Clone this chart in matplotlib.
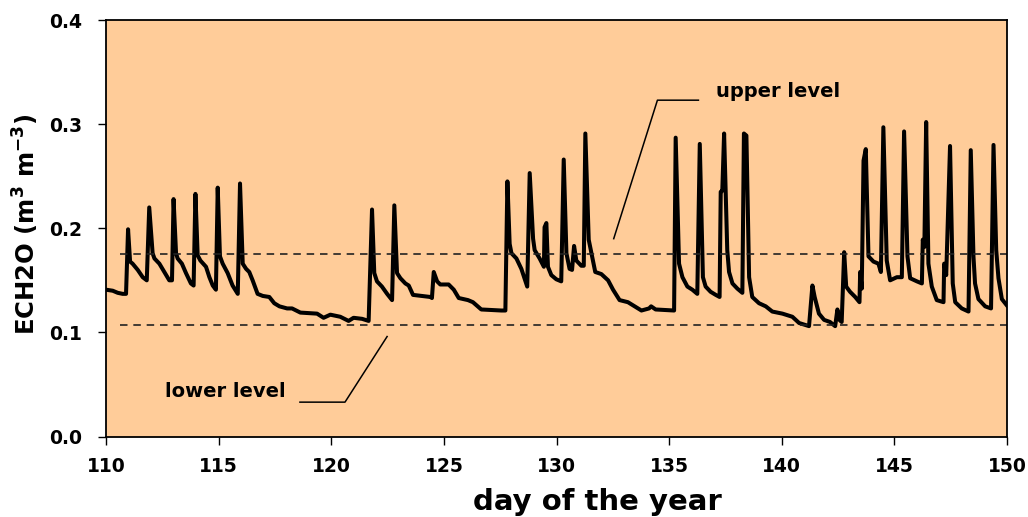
import matplotlib
matplotlib.use('Agg')
from matplotlib import pyplot as plt

# ECH2O probe readings, day of year vs volumetric water content
day = [110.00, 110.30, 110.52, 110.74, 110.89, 110.98, 111.07, 111.18, 111.41, 111.63,
       111.81, 111.92, 112.07, 112.15, 112.37, 112.59, 112.81, 112.93, 113.00, 113.11,
       113.18, 113.37, 113.55, 113.77, 113.89, 113.97, 114.07, 114.19, 114.44, 114.59,
       114.74, 114.88, 114.96, 115.06, 115.18, 115.40, 115.62, 115.85, 115.95, 116.07,
       116.22, 116.36, 116.51, 116.73, 116.96, 117.25, 117.47, 117.70, 118.04, 118.26,
       118.63, 119.37, 119.66, 119.96, 120.40, 120.77, 120.99, 121.37, 121.66, 121.81,
       121.91, 122.03, 122.25, 122.48, 122.70, 122.80, 122.92, 123.07, 123.29, 123.44,
       123.63, 124.40, 124.47, 124.55, 124.70, 124.84, 125.21, 125.44, 125.66, 126.07,
       126.29, 126.66, 127.55, 127.73, 127.82, 127.92, 128.00, 128.22, 128.44, 128.70,
       128.81, 128.96, 129.03, 129.25, 129.44, 129.47, 129.55, 129.62, 129.77, 129.99,
       130.21, 130.32, 130.44, 130.58, 130.69, 130.78, 130.88, 131.10, 131.21, 131.28,
       131.43, 131.55, 131.72, 131.99, 132.29, 132.51, 132.80, 133.17, 133.47, 133.77,
       134.11, 134.20, 134.40, 135.22, 135.29, 135.44, 135.59, 135.81, 136.03, 136.25,
       136.36, 136.50, 136.62, 136.84, 137.07, 137.24, 137.29, 137.36, 137.44, 137.58,
       137.66, 137.81, 138.03, 138.25, 138.32, 138.43, 138.55, 138.69, 138.99, 139.29,
       139.58, 140.03, 140.47, 140.77, 141.21, 141.36, 141.46, 141.65, 141.88, 142.14,
       142.37, 142.47, 142.56, 142.66, 142.77, 142.86, 143.03, 143.26, 143.45, 143.48,
       143.55, 143.63, 143.73, 143.85, 144.07, 144.29, 144.40, 144.51, 144.66, 144.81,
       145.11, 145.33, 145.43, 145.58, 145.70, 146.00, 146.22, 146.26, 146.33, 146.41,
       146.51, 146.66, 146.88, 147.18, 147.21, 147.30, 147.47, 147.59, 147.70, 147.99,
       148.29, 148.39, 148.51, 148.58, 148.73, 149.03, 149.29, 149.40, 149.52, 149.62,
       149.77, 149.99]
ech2o = [0.141, 0.140, 0.138, 0.137, 0.137, 0.199, 0.168, 0.166, 0.160, 0.153,
         0.150, 0.220, 0.176, 0.171, 0.166, 0.158, 0.150, 0.150, 0.228, 0.176,
         0.171, 0.166, 0.157, 0.147, 0.145, 0.233, 0.174, 0.169, 0.163, 0.153,
         0.145, 0.141, 0.239, 0.173, 0.166, 0.157, 0.145, 0.137, 0.243, 0.166,
         0.161, 0.158, 0.150, 0.137, 0.135, 0.134, 0.128, 0.125, 0.123, 0.123,
         0.119, 0.118, 0.114, 0.117, 0.115, 0.111, 0.114, 0.113, 0.111, 0.218,
         0.157, 0.149, 0.144, 0.137, 0.131, 0.222, 0.157, 0.152, 0.147, 0.145,
         0.136, 0.134, 0.133, 0.158, 0.149, 0.146, 0.146, 0.141, 0.133, 0.131,
         0.129, 0.122, 0.121, 0.121, 0.245, 0.185, 0.176, 0.171, 0.161, 0.144,
         0.253, 0.190, 0.179, 0.171, 0.163, 0.201, 0.205, 0.163, 0.155, 0.151,
         0.149, 0.266, 0.176, 0.161, 0.160, 0.183, 0.169, 0.164, 0.164, 0.291,
         0.189, 0.176, 0.158, 0.156, 0.150, 0.141, 0.131, 0.129, 0.125, 0.121,
         0.123, 0.125, 0.122, 0.121, 0.287, 0.166, 0.153, 0.144, 0.141, 0.137,
         0.281, 0.153, 0.144, 0.139, 0.136, 0.134, 0.235, 0.236, 0.291, 0.179,
         0.158, 0.147, 0.142, 0.138, 0.291, 0.289, 0.153, 0.134, 0.128, 0.125,
         0.120, 0.118, 0.115, 0.109, 0.106, 0.145, 0.134, 0.118, 0.112, 0.110,
         0.106, 0.122, 0.112, 0.110, 0.177, 0.144, 0.139, 0.134, 0.129, 0.158,
         0.142, 0.265, 0.276, 0.173, 0.168, 0.166, 0.158, 0.297, 0.169, 0.150,
         0.153, 0.153, 0.293, 0.173, 0.152, 0.149, 0.147, 0.189, 0.182, 0.302,
         0.166, 0.144, 0.131, 0.129, 0.166, 0.155, 0.279, 0.147, 0.129, 0.123,
         0.120, 0.275, 0.173, 0.147, 0.132, 0.125, 0.123, 0.280, 0.179, 0.152,
         0.132, 0.126]

upper_level = 0.175
lower_level = 0.107

plt.rcParams['font.family'] = ['DejaVu Sans']
plt.rcParams['font.weight'] = 'bold'
plt.rcParams['mathtext.default'] = 'bf'

fig = plt.figure(figsize=(10.28, 5.17), dpi=100)
ax = fig.add_axes([0.1031, 0.1557, 0.8765, 0.8056])
ax.set_facecolor('#FFCC99')

ax.plot(day, ech2o, color='black', lw=2.9, solid_joinstyle='round')

# threshold levels
ax.plot([110.6, 150], [upper_level, upper_level], color='#222222', lw=1.2,
        linestyle=(0, (4.5, 3.5)))
ax.plot([110.6, 150], [lower_level, lower_level], color='#222222', lw=1.2,
        linestyle=(0, (4.5, 3.5)))

# leader lines for the labels
ax.plot([136.30, 134.48, 132.54], [0.323, 0.323, 0.190], color='black', lw=1.1)
ax.plot([118.61, 120.61, 122.48], [0.033, 0.033, 0.096], color='black', lw=1.1)
ax.text(137.1, 0.331, 'upper level', fontsize=14, fontweight='bold', va='center')
ax.text(112.6, 0.043, 'lower level', fontsize=14, fontweight='bold', va='center')

ax.set_xlim(110, 150)
ax.set_ylim(0, 0.4)
ax.set_xticks(range(110, 151, 5))
ax.set_yticks([0.0, 0.1, 0.2, 0.3, 0.4])
ax.set_yticklabels(['0.0', '0.1', '0.2', '0.3', '0.4'])
ax.tick_params(direction='out', length=6, width=1, labelsize=13.5)
ax.tick_params(axis='y', pad=11)
ax.tick_params(axis='x', pad=9)
for s in ax.spines.values():
    s.set_linewidth(1.3)

ax.set_xlabel('day of the year', fontsize=21, fontweight='bold', va='center')
ax.xaxis.set_label_coords(0.545, -0.158)
ax.set_ylabel('ECH2O (m$^{3}$ m$^{-3}$)', fontsize=17.5, fontweight='bold')
ax.yaxis.set_label_coords(-0.072, 0.51)

plt.savefig('out.png', dpi=100)
plt.close()
